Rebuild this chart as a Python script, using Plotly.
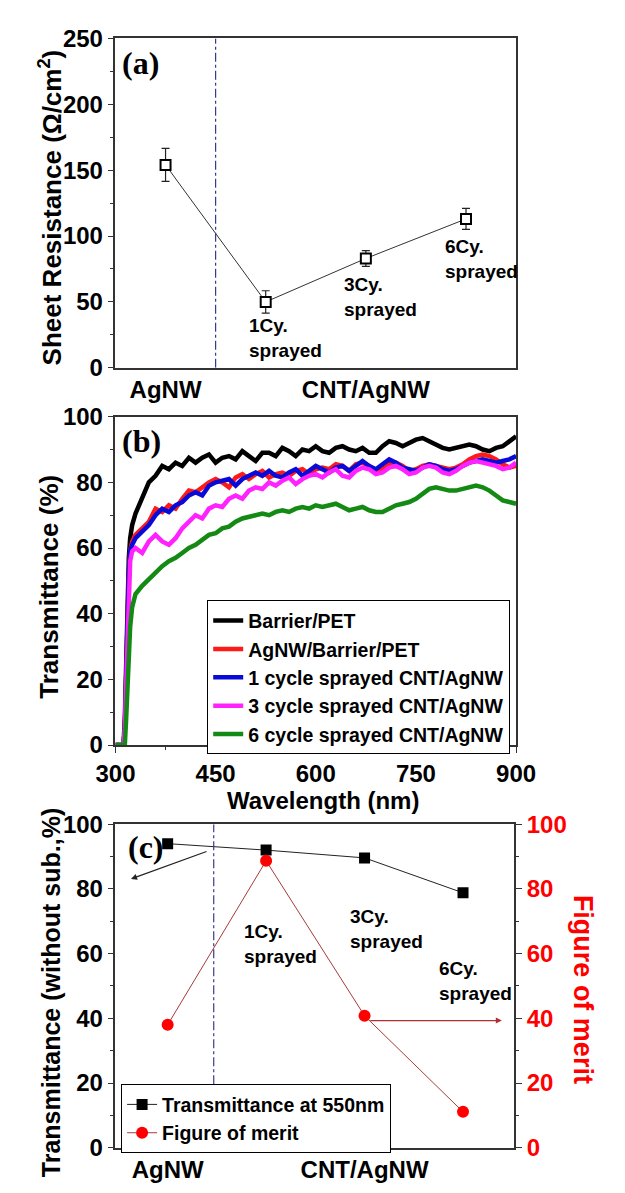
import plotly.graph_objects as go

# ---------------- data ----------------
# (a) sheet resistance
sample_pos = [1, 2, 3, 4]
sheet_res = [154, 50, 83, 113]
sheet_err = [12.5, 8.5, 6, 8]
category_pos = [1, 3]
category_text = ["AgNW", "CNT/AgNW"]
divider_a = 1.5
divider_c = 1.468

# (b) transmittance spectra
wavelength = [300, 312, 314, 316, 318, 320, 322, 325, 330,
              340, 350, 360, 370, 380, 390, 400, 410, 420, 430,
              440, 450, 460, 470, 480, 490, 500, 510, 520, 530,
              540, 550, 560, 570, 580, 590, 600, 610, 620, 630,
              640, 650, 660, 670, 680, 690, 700, 710, 720, 730,
              740, 750, 760, 770, 780, 790, 800, 810, 820, 830,
              840, 850, 860, 870, 880, 890, 900]
t_barrier = [0, 0, 8, 28, 45, 57, 63, 67, 70.5,
             75, 80, 82, 85, 84, 86, 85, 87.5, 86, 87.5,
             88.5, 86, 87.5, 88, 87, 89.5, 88, 86.5, 89, 89,
             88, 90.5, 89.5, 88, 90, 89.5, 91, 89.5, 89, 90.5,
             91, 90, 89.5, 90.5, 89, 89, 91, 92.5, 92, 91,
             92, 93, 93.5, 92.5, 91.5, 90.5, 90, 90.5, 91, 91.5,
             91, 90, 89.5, 90.5, 91, 92.5, 94]
t_agnw = [0, 0, 5, 22, 40, 52, 59, 62, 64,
          66, 68, 72, 71, 73, 72, 75, 77.5, 77, 78.5,
          80, 81, 80, 78.5, 81.5, 82.5, 81, 82.5, 83.5, 81.5,
          82.5, 83, 82, 83.5, 84, 82.5, 84, 84.5, 84, 85.5,
          85, 83.5, 85.5, 86, 85, 83.5, 84, 85.5, 86, 85,
          83.5, 84, 85, 85.5, 85, 84.5, 84, 84.5, 85.5, 87,
          88, 88.5, 88, 87, 85.5, 84.5, 85]
t_1cy = [0, 0, 5, 22, 40, 52, 59, 61, 63,
         65, 67, 70, 72, 71, 73, 74, 76, 77, 76,
         79, 80, 80.5, 81, 79, 81, 82, 83, 82, 83.5,
         82, 81.5, 83, 84, 82, 83.5, 85, 84, 83, 84.5,
         85, 83.5, 85, 86.5, 85, 84, 85.5, 87, 86, 84.5,
         84, 83.5, 84.5, 85.5, 85, 84, 83.5, 84, 85, 86,
         86.5, 87, 86.5, 86, 86.5, 87, 88]
t_3cy = [0, 0, 5, 20, 38, 50, 56, 59, 60,
         58.5, 62, 64, 62, 61, 63, 66, 68, 70, 69,
         72, 73, 72.5, 75, 76, 75, 77.5, 78.5, 78, 80,
         79, 80.5, 81.5, 79.5, 81, 82, 82.5, 81.5, 83, 84,
         82, 81.5, 83.5, 84.5, 84, 82.5, 83, 84.5, 85, 84,
         82.5, 83, 84.5, 85, 84.5, 83, 82.5, 83.5, 85, 86,
         86.5, 86, 85.5, 85, 84, 84.5, 86]
t_6cy = [0, 0, 0, 8, 18, 28, 36, 42, 46,
         48.5, 50.5, 52.5, 54.5, 56, 57, 58.5, 60, 61, 62.5,
         64, 64.5, 66, 66.5, 68, 69, 69.5, 70, 70.5, 70,
         71, 71.5, 71, 72, 72.5, 72, 73, 72.5, 73, 73.5,
         72.5, 71.5, 72, 72.5, 71.5, 71, 71, 72, 73, 73.5,
         74, 75, 76.5, 78, 78.5, 78, 77.5, 77.5, 78, 78.5,
         79, 78.5, 77.5, 76, 74.5, 74, 73.5]
spectra_names = ["Barrier/PET", "AgNW/Barrier/PET", "1 cycle sprayed CNT/AgNW",
                 "3 cycle sprayed CNT/AgNW", "6 cycle sprayed CNT/AgNW"]
spectra_colors = ["#000000", "#ff1a1a", "#0a0ad8", "#ff22ff", "#138a13"]

# (c) transmittance at 550 nm and figure of merit
t550 = [94, 92, 89.6, 78.8]
fom = [38, 88.7, 40.8, 11.1]

# ---------------- layout helpers ----------------
W, H = 625, 1193
def px(x):
    return x / W
def py(y):
    return 1 - y / H

FONT = "Liberation Sans, Arial, sans-serif"
SERIF = "Liberation Serif, Times New Roman, serif"
AX = "#333333"
XL, XR, XRC = 102, 530, 528

fig = go.Figure()

# (a)
fig.add_trace(go.Scatter(
    x=sample_pos, y=sheet_res, mode="lines+markers",
    error_y=dict(type="data", array=sheet_err, color="#222", thickness=1.2, width=4),
    marker=dict(symbol="square", size=10, color="white", line=dict(color="black", width=2)),
    line=dict(color="#333", width=1), xaxis="x", yaxis="y", showlegend=False))

# (b)
for name, ys, col in zip(spectra_names, [t_barrier, t_agnw, t_1cy, t_3cy, t_6cy], spectra_colors):
    fig.add_trace(go.Scatter(x=wavelength, y=ys, mode="lines", name=name,
                             line=dict(color=col, width=4.5), xaxis="x2", yaxis="y2",
                             legend="legend"))

# (c)
fig.add_trace(go.Scatter(x=sample_pos, y=t550, mode="lines+markers", name="Transmittance at 550nm",
                         marker=dict(symbol="square", size=11, color="black"),
                         line=dict(color="#222", width=1), xaxis="x3", yaxis="y3", legend="legend2"))
fig.add_trace(go.Scatter(x=sample_pos, y=fom, mode="lines+markers", name="Figure of merit",
                         marker=dict(symbol="circle", size=12, color="#ff0000"),
                         line=dict(color="#a83a3a", width=1), xaxis="x3", yaxis="y4", legend="legend2"))

tickf = dict(family=FONT, size=24, color="black", weight="bold")
common = dict(showline=True, linecolor=AX, linewidth=1.5, mirror=True, showgrid=False,
              zeroline=False, tickfont=tickf)
yticks = dict(ticks="outside", ticklen=6, tickwidth=1.2, tickcolor=AX)

fig.update_layout(
    width=W, height=H, margin=dict(l=0, r=0, t=0, b=0),
    paper_bgcolor="white", plot_bgcolor="white",
    xaxis=dict(domain=[px(XL), px(XR)], range=[0.5, 4.5], anchor="y",
               tickvals=category_pos, ticktext=category_text, ticks="", **common),
    yaxis=dict(domain=[py(362), py(25)], range=[0, 250], dtick=50, anchor="x",
               minor=dict(dtick=25, ticks="outside", ticklen=3.5, tickcolor=AX),
               **yticks, **common),
    xaxis2=dict(domain=[px(XL), px(XR)], range=[300, 900], dtick=150, anchor="y2",
                minor=dict(dtick=75, ticks="outside", ticklen=3.5, tickcolor=AX),
                **yticks, **common),
    yaxis2=dict(domain=[py(748), py(412)], range=[0, 100], dtick=20, anchor="x2",
                minor=dict(dtick=10, ticks="outside", ticklen=3.5, tickcolor=AX),
                **yticks, **common),
    xaxis3=dict(domain=[px(XL), px(XRC)], range=[0.47, 4.52], anchor="y3",
                tickvals=category_pos, ticktext=category_text, ticks="", **common),
    yaxis3=dict(domain=[py(1160), py(829)], range=[0, 100], dtick=20, anchor="x3",
                minor=dict(dtick=10, ticks="outside", ticklen=3.5, tickcolor=AX),
                ticks="outside", ticklen=6, tickwidth=1.2, tickcolor=AX,
                showline=True, linecolor=AX, linewidth=1.5, showgrid=False, zeroline=False,
                tickfont=tickf),
    yaxis4=dict(overlaying="y3", side="right", range=[0, 100], dtick=20, anchor="x3",
                minor=dict(dtick=10, ticks="outside", ticklen=3.5, tickcolor=AX),
                ticks="outside", ticklen=6, tickwidth=1.2, tickcolor=AX,
                showline=True, linecolor=AX, linewidth=1.5, showgrid=False, zeroline=False,
                tickfont=dict(family=FONT, size=24, color="#ff0000", weight="bold")),
    legend=dict(x=px(200), y=py(600), xanchor="left", yanchor="top",
                bordercolor="black", borderwidth=1, bgcolor="white",
                font=dict(family=FONT, size=19.5, color="black", weight="bold"),
                tracegroupgap=0, itemwidth=30),
    legend2=dict(x=px(108), y=py(1095), xanchor="left", yanchor="top",
                 bordercolor="black", borderwidth=1, bgcolor="white",
                 font=dict(family=FONT, size=19.5, color="black", weight="bold"),
                 tracegroupgap=0, itemwidth=30),
)

# divider lines
fig.add_shape(type="line", x0=divider_a, x1=divider_a, y0=0, y1=250, xref="x", yref="y",
              line=dict(color="#3a3a8a", width=1.2, dash="dashdot"))
fig.add_shape(type="line", x0=divider_c, x1=divider_c, y0=19.6, y1=100, xref="x3", yref="y3",
              line=dict(color="#3a3a8a", width=1.2, dash="dashdot"))

annf = dict(family=FONT, size=19, color="black", weight="bold")
ann = []
# panel labels
for lab, xx, yy in [("(a)", 107, 50), ("(b)", 107, 437), ("(c)", 113, 852)]:
    ann.append(dict(text=lab, x=px(xx), y=py(yy), xref="paper", yref="paper",
                    xanchor="left", yanchor="middle", showarrow=False,
                    font=dict(family=SERIF, size=32, color="black", weight="bold")))
# axis titles
titles = [("Sheet Resistance (\u03a9/cm<sup>2</sup>)", 33, 198, -90, 26, "black"),
          ("Transmittance (%)", 31, 586, -90, 26, "black"),
          ("Transmittance (without sub.,%)", 33, 1001, -90, 25, "black"),
          ("Figure of merit", 601, 998, 90, 27, "#ff0000"),
          ("Wavelength (nm)", 324, 805, 0, 24, "black")]
for txt, xx, yy, ang, sz, col in titles:
    ann.append(dict(text=txt, x=px(xx), y=py(yy), xref="paper", yref="paper",
                    xanchor="center", yanchor="middle", textangle=ang, showarrow=False,
                    font=dict(family=FONT, size=sz, color=col, weight="bold")))
# sample notes
for txt, xx, yy, xr, yr in [("1Cy.<br>sprayed", 1.816, 22.4, "x", "y"),
                             ("3Cy.<br>sprayed", 2.766, 53.7, "x", "y"),
                             ("6Cy.<br>sprayed", 3.766, 82.8, "x", "y"),
                             ("1Cy.<br>sprayed", 1.76, 63.1, "x3", "y3"),
                             ("3Cy.<br>sprayed", 2.83, 67.7, "x3", "y3"),
                             ("6Cy.<br>sprayed", 3.74, 51.4, "x3", "y3")]:
    ann.append(dict(text=txt, x=xx, y=yy, xref=xr, yref=yr, xanchor="left", yanchor="middle",
                    align="left", showarrow=False, font=annf))
# arrows
ann.append(dict(text="", x=0.628, y=83.1, xref="x3", yref="y3", ax=77, ay=-28,
                axref="pixel", ayref="pixel", showarrow=True, arrowhead=2, arrowsize=1,
                arrowwidth=1.2, arrowcolor="#222"))
ann.append(dict(text="", x=4.394, y=39.3, xref="x3", yref="y4", ax=-133, ay=0,
                axref="pixel", ayref="pixel", showarrow=True, arrowhead=2, arrowsize=1,
                arrowwidth=1.2, arrowcolor="#b03030"))
fig.update_layout(annotations=ann)

fig.write_html("out.html")
